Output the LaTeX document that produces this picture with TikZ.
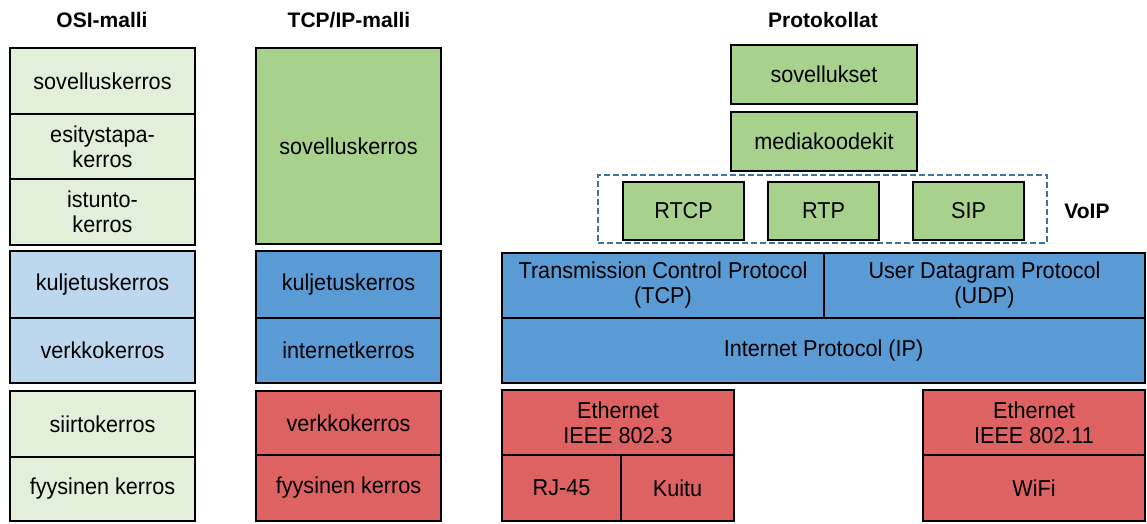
\documentclass[tikz,border=0pt]{standalone}
\usepackage{fontspec}
\setmainfont{Liberation Sans}[FakeStretch=0.94]
\newfontfamily\titlefont{Liberation Sans}
\definecolor{osigreen}{HTML}{E2EFDA}
\definecolor{tcpgreen}{HTML}{A9D18E}
\definecolor{osiblue}{HTML}{BDD7EE}
\definecolor{tcpblue}{HTML}{5B9BD5}
\definecolor{redbox}{HTML}{DE6262}
\definecolor{dashblue}{HTML}{41719C}
\tikzset{
  box/.style={draw=black, line width=2.2pt, rectangle, inner sep=0pt, outer sep=0pt,
    align=center, font=\fontsize{23}{25}\selectfont, text=black},
  title/.style={font=\titlefont\bfseries\fontsize{21}{23}\selectfont, inner sep=0pt},
  voipframe/.style={draw=dashblue, line width=1.6pt, dash pattern=on 6pt off 3pt, rectangle, inner sep=0pt}
}
% \bx{name}{x1}{y1}{x2}{y2}{fill}{text}
\newcommand{\bx}[7]{\node[box, fill=#6, minimum width={#4-#2}, minimum height={#5-#3}]
  (#1) at ({(#2+#4)/2},{(#3+#5)/2}) {#7};}
\begin{document}
\begin{tikzpicture}[x=1pt,y=-1pt]
\useasboundingbox (0,0) rectangle (1147,523);
% titles
\node[title] (tosi) at (102,20) {OSI-malli};
\node[title] (ttcp) at (349,20) {TCP/IP-malli};
\node[title] (tprot) at (823,20) {Protokollat};
% OSI column
\bx{osi1}{10}{48}{195}{114}{osigreen}{sovelluskerros}
\bx{osi2}{10}{114}{195}{179}{osigreen}{esitystapa-\\kerros}
\bx{osi3}{10}{179}{195}{245}{osigreen}{istunto-\\kerros}
\bx{osi4}{10}{251}{195}{318}{osiblue}{kuljetuskerros}
\bx{osi5}{10}{318}{195}{383}{osiblue}{verkkokerros}
\bx{osi6}{10}{391}{195}{457}{osigreen}{siirtokerros}
\bx{osi7}{10}{457}{195}{521}{osigreen}{fyysinen kerros}
% TCP/IP column
\bx{tcp1}{256}{48}{441}{244}{tcpgreen}{sovelluskerros}
\bx{tcp2}{256}{251}{441}{318}{tcpblue}{kuljetuskerros}
\bx{tcp3}{256}{318}{441}{383}{tcpblue}{internetkerros}
\bx{tcp4}{256}{391}{441}{455}{redbox}{verkkokerros}
\bx{tcp5}{256}{455}{441}{521}{redbox}{fyysinen kerros}
% protocols
\bx{sov}{731}{45}{917}{104}{tcpgreen}{sovellukset}
\bx{med}{731}{112}{917}{171}{tcpgreen}{mediakoodekit}
\node[voipframe, minimum width=449, minimum height=68] (voipbox) at (822.5,209) {};
\bx{rtcp}{623}{182}{744}{240}{tcpgreen}{RTCP}
\bx{rtp}{768}{182}{879}{240}{tcpgreen}{RTP}
\bx{sip}{913}{182}{1024}{240}{tcpgreen}{SIP}
\node[title] (voip) at (1087,211) {VoIP};
\bx{tcpp}{502}{253}{824}{318}{tcpblue}{Transmission Control Protocol\\(TCP)}
\bx{udp}{824}{253}{1145}{318}{tcpblue}{User Datagram Protocol\\(UDP)}
\bx{ip}{502}{318}{1145}{383}{tcpblue}{Internet Protocol (IP)}
\bx{eth1}{502}{390}{734}{455}{redbox}{Ethernet\\IEEE 802.3}
\bx{rj}{502}{455}{621}{521}{redbox}{RJ-45}
\bx{kuitu}{621}{455}{734}{521}{redbox}{Kuitu}
\bx{eth2}{923}{390}{1145}{455}{redbox}{Ethernet\\IEEE 802.11}
\bx{wifi}{923}{455}{1145}{521}{redbox}{WiFi}
\end{tikzpicture}
\end{document}
